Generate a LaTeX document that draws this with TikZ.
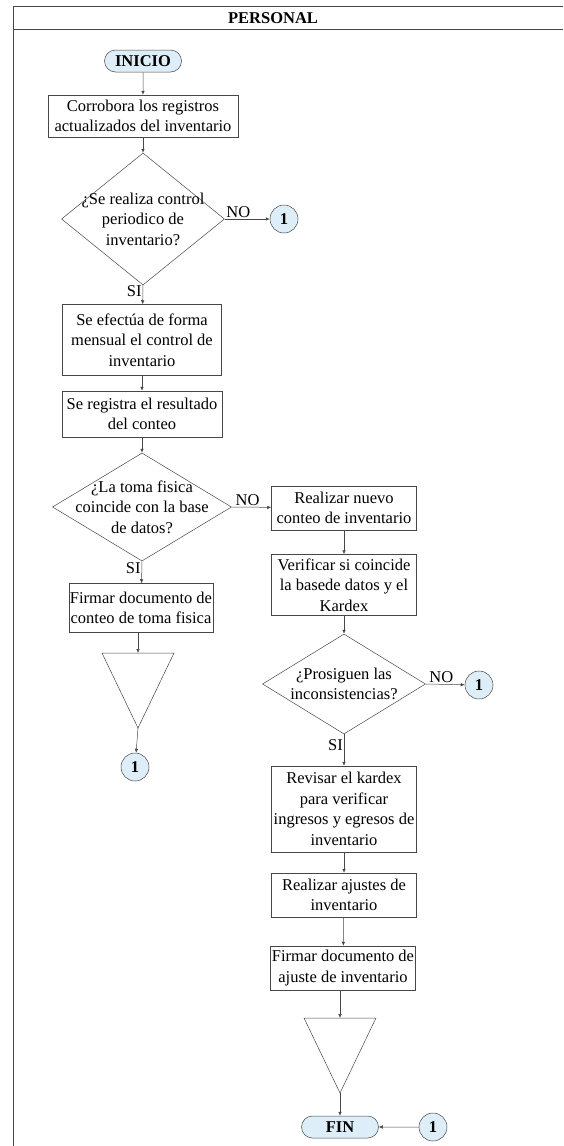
\documentclass[tikz,border=0pt]{standalone}
\usepackage{fontspec}
\setmainfont{Liberation Serif}
\usetikzlibrary{shapes.geometric,shapes.misc,arrows.meta}

\definecolor{termfill}{HTML}{DDEEF8}
\definecolor{linegray}{HTML}{474747}

\tikzset{
  every node/.style={font=\fontsize{16.5}{20.5}\selectfont},
  terminal/.style={draw=linegray, fill=termfill, rounded rectangle, minimum width=79pt,
    minimum height=22pt, inner sep=1pt, font=\fontsize{16.5}{20.5}\selectfont\bfseries},
  process/.style={draw=linegray, rectangle, align=center, inner sep=1pt},
  decision/.style={draw=linegray, diamond, inner sep=0pt},
  decisiontext/.style={align=center, inner sep=0pt},
  connector/.style={draw=linegray, fill=termfill, circle, minimum size=28pt, inner sep=0pt,
    font=\fontsize{16.5}{20.5}\selectfont\bfseries},
  flow/.style={draw=linegray, -{Latex[length=4pt,width=3.5pt]}},
  answer/.style={inner sep=1pt}
}

\begin{document}
\begin{tikzpicture}[x=1pt,y=-1pt,line width=0.5pt]
    \useasboundingbox (0,0) rectangle (563,1146);
    %% Frame and header
    \draw[linegray] (563,6) -- (13,6) -- (13,1146);
    \draw[linegray] (13,29) -- (563,29);
    \node[font=\fontsize{16.5}{20.5}\selectfont\bfseries] (head) at (273,18) {PERSONAL};

    %% Left column
    \node[terminal] (inicio) at (143,61) {INICIO};
    \node[process, minimum width=190pt, minimum height=42pt] (p1) at (143,116)
      {Corrobora los registros\\actualizados del inventario};
    \node[decision, minimum width=163pt, minimum height=132pt] (d1) at (143,219) {};
    \node[decisiontext] (d1t) at (d1.center) {¿Se realiza control\\periodico de\\inventario?};
    \node[connector] (c1) at (284,219) {1};
    \node[process, minimum width=159pt, minimum height=71pt] (p2) at (142,340)
      {Se efectúa de forma\\mensual el control de\\inventario};
    \node[process, minimum width=160pt, minimum height=46pt] (p3) at (142,414)
      {Se registra el resultado\\del conteo};
    \node[decision, minimum width=179pt, minimum height=108pt] (d2) at (142,507) {};
    \node[decisiontext] (d2t) at (d2.center) {¿La toma fisica\\coincide con la base\\de datos?};
    \node[process, minimum width=144pt, minimum height=49pt] (l1) at (141,608)
      {Firmar documento de\\conteo de toma fisica};
    %% Left archive triangle
    \coordinate (t1top) at (138,653);
    \coordinate (t1tip) at (138,728);
    \draw[linegray] (102,653) -- (174,653) -- (t1tip) -- cycle;
    \node[connector] (c2) at (135,767) {1};

    %% Right column
    \node[process, minimum width=145pt, minimum height=44pt] (r1) at (344,508)
      {Realizar nuevo\\conteo de inventario};
    \node[process, minimum width=145pt, minimum height=61pt] (r2) at (344,585)
      {Verificar si coincide\\la basede datos y el\\Kardex};
    \node[decision, minimum width=163pt, minimum height=100pt] (d3) at (344,684) {};
    \node[decisiontext] (d3t) at (d3.center) {¿Prosiguen las\\inconsistencias?};
    \node[connector] (c3) at (479,685) {1};
    \node[process, minimum width=145pt, minimum height=86pt] (r3) at (344,809)
      {Revisar el kardex\\para verificar\\ingresos y egresos de\\inventario};
    \node[process, minimum width=145pt, minimum height=44pt] (r4) at (344,895)
      {Realizar ajustes de\\inventario};
    \node[process, minimum width=145pt, minimum height=44pt] (r5) at (343,968)
      {Firmar documento de\\ajuste de inventario};
    %% Right archive triangle
    \coordinate (t2top) at (340,1018);
    \coordinate (t2tip) at (340,1093);
    \draw[linegray] (304,1018) -- (376,1018) -- (t2tip) -- cycle;
    \node[terminal] (fin) at (340,1127) {FIN};
    \node[connector] (c4) at (433,1127) {1};

    %% Connectors
    \draw[flow] (inicio) -- (p1);
    \draw[flow] (p1) -- (d1.north);
    \draw[flow] (d1.east) -- node[answer, above, pos=0.3] (no1) {NO} (c1);
    \draw[flow] (d1.south) -- node[answer, left, pos=0.3] (si1) {SI} (p2);
    \draw[flow] (p2) -- (p3);
    \draw[flow] (p3) -- (d2.north);
    \draw[flow] (d2.east) -- node[answer, above, pos=0.4] (no2) {NO} (r1);
    \draw[flow] (d2.south) -- node[answer, left, pos=0.3] (si2) {SI} (l1);
    \draw[flow] (l1.south -| t1top) -- (t1top);
    \draw[flow] (t1tip) -- (c2);
    \draw[flow] (r1) -- (r2);
    \draw[flow] (r2) -- (d3.north);
    \draw[flow] (d3.east) -- node[answer, above, pos=0.4] (no3) {NO} (c3);
    \draw[flow] (d3.south) -- node[answer, left, pos=0.35] (si3) {SI} (r3);
    \draw[flow] (r3) -- (r4);
    \draw[flow] (r4) -- (r5);
    \draw[flow] (r5.south -| t2top) -- (t2top);
    \draw[flow] (t2tip) -- (fin);
    \draw[flow] (c4) -- (fin);
\end{tikzpicture}
\end{document}
